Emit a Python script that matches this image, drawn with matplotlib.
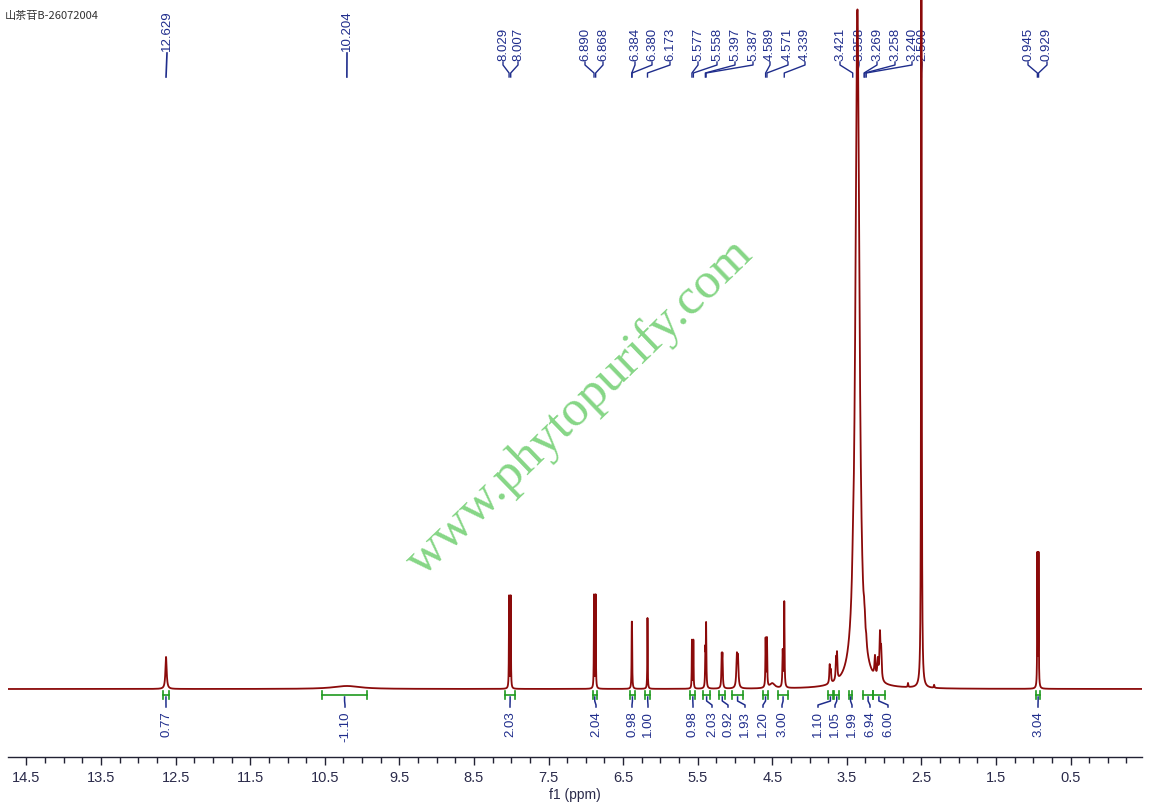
import numpy as np
import matplotlib
matplotlib.use('Agg')
import matplotlib.pyplot as plt
from matplotlib.ticker import MultipleLocator

plt.rcParams['font.family'] = ['Liberation Sans', 'DejaVu Sans']

# ---------------- data ----------------
title_text = '山茶苷B-26072004'

# spectrum peaks: position (ppm), height (intensity units), half width (ppm)
peak_ppm = [12.629, 10.204, 8.029, 8.007, 6.890, 6.868, 6.384, 6.380, 6.173,
            5.577, 5.558, 5.397, 5.387, 5.178, 5.168, 4.975, 4.960,
            4.589, 4.571, 4.500, 4.360, 4.339,
            3.730, 3.715, 3.645, 3.632, 3.421, 3.358, 3.269, 3.258, 3.240,
            3.123, 3.085, 3.056, 3.040, 2.680, 2.500, 2.330, 0.945, 0.929]
peak_height = [32, 3, 92, 92, 93, 93, 48, 48, 71,
               48, 48, 35, 62, 30, 30, 30, 28,
               48, 48, 5, 36, 85,
               18, 12, 20, 25, 12, 679, 11, 11, 7,
               20, 18, 44, 28, 4, 1000, 3, 133, 133]
peak_hwhm = [0.010, 0.22, 0.003, 0.003, 0.003, 0.003, 0.003, 0.003, 0.003,
             0.003, 0.003, 0.004, 0.004, 0.005, 0.005, 0.008, 0.008,
             0.004, 0.004, 0.04, 0.005, 0.004,
             0.006, 0.006, 0.006, 0.006, 0.010, 0.032, 0.007, 0.007, 0.007,
             0.008, 0.008, 0.008, 0.008, 0.004, 0.004, 0.005, 0.003, 0.003]

# peak pick labels (ppm) and their label column positions (pixels)
peak_labels = [12.629, 10.204, 8.029, 8.007, 6.890, 6.868, 6.384, 6.380, 6.173,
               5.577, 5.558, 5.397, 5.387, 4.589, 4.571, 4.339,
               3.421, 3.358, 3.269, 3.258, 3.240, 2.500, 0.945, 0.929]
label_px = [167, 347, 503, 518, 585, 603, 635, 652, 670,
            698, 717, 735, 753, 770, 788, 805,
            840, 859, 877, 895, 912, 922, 1028, 1047]

# integrals
integ_vals = ['0.77', '-1.10', '2.03', '2.04', '0.98', '1.00', '0.98', '2.03', '0.92',
              '1.93', '1.20', '3.00', '1.10', '1.05', '1.99', '6.94', '6.00', '3.04']
integ_from = [12.67, 10.54, 8.08, 6.91, 6.41, 6.20, 5.60, 5.43, 5.21,
              5.04, 4.62, 4.42, 3.75, 3.67, 3.47, 3.28, 3.15, 0.96]
integ_to = [12.59, 9.93, 7.95, 6.85, 6.34, 6.14, 5.53, 5.33, 5.13,
            4.89, 4.56, 4.29, 3.69, 3.60, 3.43, 3.15, 2.99, 0.91]
integ_label_px = [166, 345, 510, 596, 632, 648, 693, 712, 728,
                  745, 763, 782, 818, 835, 852, 870, 888, 1038]

tick_vals = [14.5, 13.5, 12.5, 11.5, 10.5, 9.5, 8.5, 7.5, 6.5, 5.5, 4.5, 3.5, 2.5, 1.5, 0.5]

# ---------------- layout ----------------
W, H = 1152, 809
x_left, x_right, y_axis = 8, 1142, 757
base_px = 689
navy = '#1f2d8c'
green = '#1f9a1f'
red = '#8b0a0a'

fig = plt.figure(figsize=(W / 100, H / 100), dpi=100)
ax = fig.add_axes([x_left / W, (H - y_axis) / H, (x_right - x_left) / W, y_axis / H])
ax.set_xlim(14.748, -0.458)
ax.set_ylim(0, y_axis)
baseline = y_axis - base_px

ppm = np.linspace(14.748, -0.458, 40000)
spec = np.full_like(ppm, float(baseline))
for p, h, w in zip(peak_ppm, peak_height, peak_hwhm):
    spec += h / (1.0 + ((ppm - p) / w) ** 2)
ax.plot(ppm, spec, color=red, lw=1.3, zorder=3)

for s in ['top', 'left', 'right']:
    ax.spines[s].set_visible(False)
ax.spines['bottom'].set_color('#222233')
ax.spines['bottom'].set_linewidth(1.0)
ax.yaxis.set_visible(False)
ax.set_xticks(tick_vals, labels=[f'{v:.1f}' for v in tick_vals])
ax.xaxis.set_minor_locator(MultipleLocator(0.25))
ax.tick_params(axis='x', which='major', direction='out', length=6, width=1.0,
               color='#222233', labelsize=10.5, labelcolor='#2b2b4b', pad=4)
ax.tick_params(axis='x', which='minor', direction='out', length=4, width=1.0, color='#222233')
ax.set_xlabel('f1 (ppm)', fontsize=10, color='#2b2b4b', labelpad=2)
ax.patch.set_alpha(0)

# overlay in pixel coordinates
ov = fig.add_axes([0, 0, 1, 1], facecolor='none')
ov.set_xlim(0, W)
ov.set_ylim(H, 0)
ov.axis('off')
ov.set_zorder(ax.get_zorder() - 1)


def ppm2px(p):
    return ax.transData.transform((p, 0))[0]


# title
ov.text(5, 16, title_text, fontsize=8, color='#333333', ha='left', va='center',
        family=['Noto Sans CJK SC', 'DejaVu Sans'])

# watermark
ov.text(580, 408, 'www.phytopurify.com', rotation=44, ha='center', va='center',
        fontsize=37, color='#86d686', family=['Liberation Serif', 'DejaVu Serif'],
        rotation_mode='anchor')

# peak labels
for i, (val, lx) in enumerate(zip(peak_labels, label_px)):
    px = ppm2px(val)
    others = [abs(lx - o) for j, o in enumerate(label_px) if j != i]
    isolated = min(others) > 40
    if isolated:
        ov.text(lx, 51, f'{val:.3f}', rotation=90, ha='center', va='bottom',
                fontsize=9.5, color=navy)
        ov.plot([lx, px], [53, 77], color=navy, lw=1.2)
    else:
        ov.text(lx, 61, f'{val:.3f}', rotation=90, ha='center', va='bottom',
                fontsize=9.5, color=navy)
        ov.plot([lx, lx, px, px], [62, 65, 73, 77], color=navy, lw=1.0)

# integrals
for val, a, b, lx in zip(integ_vals, integ_from, integ_to, integ_label_px):
    xa, xb = ppm2px(a), ppm2px(b)
    xc = 0.5 * (xa + xb)
    ov.plot([xa, xb], [695, 695], color=green, lw=1.2)
    ov.plot([xa, xa], [691, 699], color=green, lw=1.2)
    ov.plot([xb, xb], [691, 699], color=green, lw=1.2)
    ov.plot([xc, xc, lx, lx], [697, 701, 705, 707], color=navy, lw=1.1)
    ov.text(lx, 711, val, rotation=90, ha='center', va='top', fontsize=9.5, color=navy)

fig.savefig('out.png', dpi=100)
